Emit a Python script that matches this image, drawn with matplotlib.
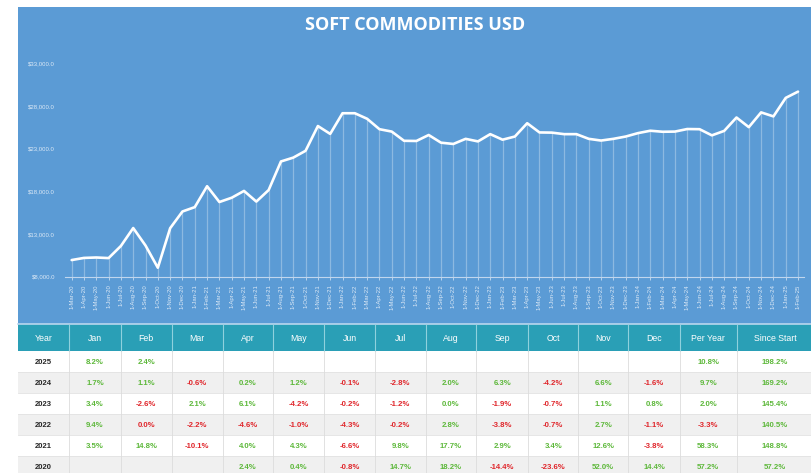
import matplotlib
matplotlib.use("Agg")
import matplotlib.pyplot as plt
from matplotlib.patches import Rectangle
import math

# ---------------- data ----------------
month_names = ["Jan", "Feb", "Mar", "Apr", "May", "Jun",
               "Jul", "Aug", "Sep", "Oct", "Nov", "Dec"]
date_labels = ([f"1-{m}-20" for m in month_names[2:]] +
               [f"1-{m}-{y}" for y in ["21", "22", "23", "24"] for m in month_names] +
               [f"1-{m}-25" for m in month_names[:2]])

values = [
    9950, 10200, 10250, 10180, 11600, 13700, 11650, 9050, 13680, 15640,
    16150, 18600, 16750, 17250, 18050, 16800, 18150, 21500, 21950, 22750, 25650, 24730,
    27150, 27150, 26500, 25280, 25000, 23920, 23900, 24600, 23700, 23550, 24150, 23850,
    24700, 24050, 24420, 25980, 24900, 24880, 24700, 24700, 24150, 23950, 24150, 24420,
    24820, 25100, 24980, 25000, 25300, 25280, 24560, 25080, 26650, 25520, 27250, 26780,
    28950, 29680,
]

y_ticks = [8000, 13000, 18000, 23000, 28000, 33000]

table_header = ["Year", "Jan", "Feb", "Mar", "Apr", "May", "Jun", "Jul",
                "Aug", "Sep", "Oct", "Nov", "Dec", "Per Year", "Since Start"]
table_years = ["2025", "2024", "2023", "2022", "2021", "2020"]
monthly_returns = [
    [8.2, 2.4, None, None, None, None, None, None, None, None, None, None],
    [1.7, 1.1, -0.6, 0.2, 1.2, -0.1, -2.8, 2.0, 6.3, -4.2, 6.6, -1.6],
    [3.4, -2.6, 2.1, 6.1, -4.2, -0.2, -1.2, 0.0, -1.9, -0.7, 1.1, 0.8],
    [9.4, -0.0, -2.2, -4.6, -1.0, -4.3, -0.2, 2.8, -3.8, -0.7, 2.7, -1.1],
    [3.5, 14.8, -10.1, 4.0, 4.3, -6.6, 9.8, 17.7, 2.9, 3.4, 12.6, -3.8],
    [None, None, None, 2.4, 0.4, -0.8, 14.7, 18.2, -14.4, -23.6, 52.0, 14.4],
]
per_year = [10.8, 9.7, 2.0, -3.3, 58.3, 57.2]
since_start = [198.2, 169.2, 145.4, 140.5, 148.8, 57.2]

# ---------------- layout ----------------
W, H = 812, 473
fig = plt.figure(figsize=(W / 100, H / 100), dpi=100)
fig.patch.set_facecolor("white")

# background / table axes in pixel coordinates
tax = fig.add_axes([0, 0, 1, 1])
tax.set_xlim(0, W)
tax.set_ylim(H, 0)
tax.axis("off")
tax.set_zorder(0)

BLUE = "#5B9BD5"
TEAL = "#2A9FB6"
GREEN = "#5DB83A"
RED = "#E0262B"

tax.add_patch(Rectangle((18, 7), W - 18, 317, color=BLUE, lw=0))

# chart axes
ax = fig.add_axes([65.5 / W, (H - 276.7) / H, 738.7 / W, 213.4 / H])
ax.set_zorder(1)
ax.patch.set_alpha(0)
x = list(range(len(values)))
ax.vlines(x, y_ticks[0], values, color="white", alpha=0.3, lw=0.9)
ax.plot(x, values, color="white", lw=1.9, solid_joinstyle="round", solid_capstyle="round")
ax.set_xlim(-0.5, len(values) - 0.5)
ax.set_ylim(y_ticks[0], y_ticks[-1])
ax.set_xticks(x)
ax.set_xticklabels(date_labels, rotation=90, fontsize=4.3, color="#dce9f6",
                   family="Liberation Sans")
ax.set_yticks(y_ticks)
ax.set_yticklabels([f"${v:,.1f}" for v in y_ticks], fontsize=4.3, color="#dce9f6",
                   family="Liberation Sans")
ax.tick_params(axis="x", length=2.5, width=0.6, color="#c8dcf0", pad=3)
ax.tick_params(axis="y", length=0, pad=7.5)
for s in ["top", "right", "left"]:
    ax.spines[s].set_visible(False)
ax.spines["bottom"].set_color("#c0d6ee")
ax.spines["bottom"].set_linewidth(0.8)

fig.text(415 / W, 1 - 25.4 / H, "SOFT COMMODITIES USD", ha="center", va="center",
         color="white", fontsize=13, fontweight="bold", family="Open Sans")

# ---------------- table ----------------
col_edges = [18, 69.3, 120.7, 171.7, 222.7, 273.3, 324, 375, 425.7, 476,
             528.3, 578.3, 628.3, 680, 736.7, 830]
head_top, head_bot = 324, 351
row_h = 21

tax.add_patch(Rectangle((18, head_top), W - 18, head_bot - head_top, color=TEAL, lw=0))
tax.plot([18, W], [head_top, head_top], color="#b9d6ee", lw=1.2)
for i, name in enumerate(table_header):
    cx = (col_edges[i] + col_edges[i + 1]) / 2
    if i == len(table_header) - 1:
        cx = 775
    tax.text(cx, (head_top + head_bot) / 2 + 0.5, name, ha="center", va="center",
             color="white", fontsize=6.3, family="Liberation Sans")
for e in col_edges[1:-1]:
    tax.plot([e, e], [head_top + 1, head_bot], color="#8fd1dd", lw=0.8)


def fmt(v):
    return ("-" if v < 0 else "") + f"{abs(v):.1f}%"


def col(v):
    return RED if math.copysign(1, v) < 0 else GREEN


for r, yr in enumerate(table_years):
    top = head_bot + r * row_h
    bg = "white" if r % 2 == 0 else "#F0F0F0"
    tax.add_patch(Rectangle((18, top), W - 18, row_h, color=bg, lw=0))
    tax.plot([18, W], [top + row_h, top + row_h], color="#e2e2e2", lw=0.6)
    cy = top + row_h / 2 + 0.5
    tax.text((col_edges[0] + col_edges[1]) / 2, cy, yr, ha="center", va="center",
             color="#262626", fontsize=5.5, fontweight="bold", family="Liberation Sans")
    cells = monthly_returns[r] + [per_year[r], since_start[r]]
    for c, v in enumerate(cells):
        if v is None:
            continue
        cx = (col_edges[c + 1] + col_edges[c + 2]) / 2
        if c == len(cells) - 1:
            cx = 775
        tax.text(cx, cy, fmt(v), ha="center", va="center", color=col(v),
                 fontsize=5.6, fontweight="bold", family="Liberation Sans")
for e in col_edges[1:-1]:
    tax.plot([e, e], [head_bot, H], color="#dcdcdc", lw=0.6)

fig.savefig("out.png", dpi=100)
